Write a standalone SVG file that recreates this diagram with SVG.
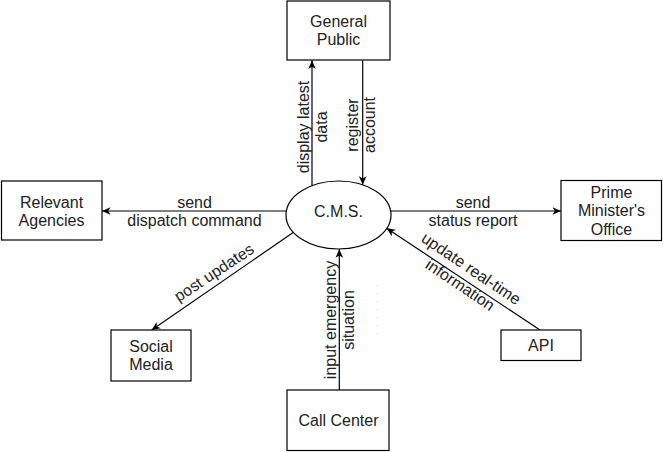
<svg xmlns="http://www.w3.org/2000/svg" width="663" height="452" viewBox="0 0 663 452">
<style>
.box{fill:#fff;stroke:#000;stroke-width:1.2}
.t{font-family:"Liberation Sans",Arial,sans-serif;font-size:16px;fill:#222;text-anchor:middle;dominant-baseline:central}
.c{stroke:#000;stroke-width:1.2;fill:none;marker-end:url(#arr)}
</style>
<defs>
<marker id="arr" markerWidth="10" markerHeight="10" refX="9" refY="5" orient="auto" markerUnits="userSpaceOnUse">
<path d="M0.5,1.2 L9,5 L0.5,8.8 L2.8,5 z" fill="#000"/>
</marker>
</defs>
<rect width="663" height="452" fill="#fff"/>
<g id="connectors">
<line class="c" x1="312" y1="185.6" x2="312" y2="60.5"/>
<line class="c" x1="362.7" y1="60.5" x2="362.7" y2="184.8"/>
<line class="c" x1="286.4" y1="211" x2="102" y2="211"/>
<line class="c" x1="390.6" y1="211" x2="561" y2="211"/>
<line class="c" x1="293.5" y1="232.3" x2="151.7" y2="330"/>
<line class="c" x1="339.3" y1="390" x2="339.3" y2="249.2"/>
<line class="c" x1="540" y1="330" x2="386.7" y2="228.3"/>
<line x1="377.3" y1="285" x2="377.3" y2="341" stroke="#ececec" stroke-width="1" stroke-dasharray="2,6"/>
<text class="t" transform="translate(312,127) rotate(-90)"><tspan x="0" y="-8.7">display latest</tspan><tspan x="0" y="8.7">data</tspan></text>
<text class="t" transform="translate(360.5,125) rotate(-90)"><tspan x="0" y="-8.8">register</tspan><tspan x="0" y="8.8">account</tspan></text>
<text class="t" transform="translate(339.2,320) rotate(-90)"><tspan x="0" y="-9.2">input emergency</tspan><tspan x="0" y="9.2">situation</tspan></text>
<text class="t"><tspan x="194.5" y="201.7">send</tspan><tspan x="194.5" y="220">dispatch command</tspan></text>
<text class="t"><tspan x="473" y="201.7">send</tspan><tspan x="473" y="220">status report</tspan></text>
<text class="t" transform="translate(214,272.5) rotate(-33.5)" x="0" y="0">post updates</text>
<text class="t" transform="translate(466,276.3) rotate(34)"><tspan x="0" y="-9.8">update real-time</tspan><tspan x="0" y="9.8">information</tspan></text>
</g>
<g id="general-public">
<rect class="box" x="287" y="1" width="103" height="59"/>
<text class="t"><tspan x="338.5" y="21">General</tspan><tspan x="338.5" y="39.3">Public</tspan></text>
</g>
<g id="cms">
<ellipse class="box" cx="338.5" cy="215" rx="52.5" ry="34"/>
<text class="t" x="338.5" y="211">C.M.S.</text>
</g>
<g id="relevant-agencies">
<rect class="box" x="1.5" y="181" width="100.5" height="59"/>
<text class="t"><tspan x="51.5" y="201.5">Relevant</tspan><tspan x="51.5" y="219.8">Agencies</tspan></text>
</g>
<g id="prime-ministers-office">
<rect class="box" x="561" y="180.5" width="100.5" height="60"/>
<text class="t"><tspan x="611.5" y="192">Prime</tspan><tspan x="611.5" y="210.3">Minister's</tspan><tspan x="611.5" y="228.6">Office</tspan></text>
</g>
<g id="social-media">
<rect class="box" x="111" y="330" width="80" height="51"/>
<text class="t"><tspan x="151" y="346">Social</tspan><tspan x="151" y="364.3">Media</tspan></text>
</g>
<g id="call-center">
<rect class="box" x="287" y="390" width="102" height="60.5"/>
<text class="t" x="338.5" y="420">Call Center</text>
</g>
<g id="api">
<rect class="box" x="501" y="330" width="80" height="30.5"/>
<text class="t" x="541" y="345.5">API</text>
</g>
</svg>
